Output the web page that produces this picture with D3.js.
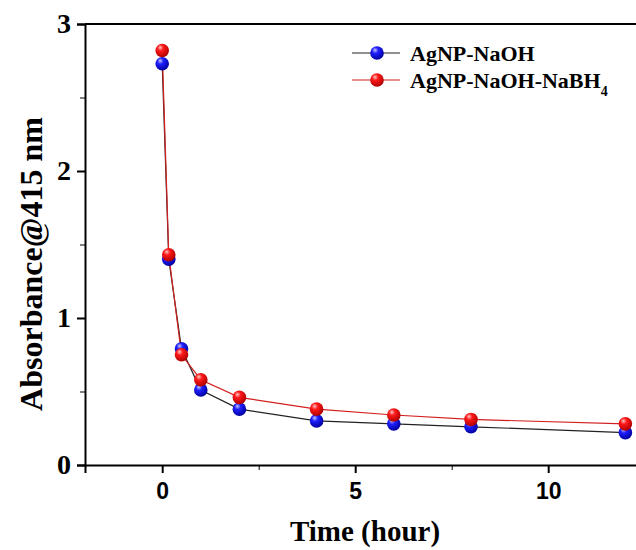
<!DOCTYPE html>
<html><head><meta charset="utf-8">
<script src="https://cdn.jsdelivr.net/npm/d3@7"></script>
<style>body{margin:0;background:#fff}svg{display:block}</style>
</head><body>
<script>
const times = [0, 0.17, 0.5, 1, 2, 4, 6, 8, 12];
const naoh = [2.73, 1.40, 0.79, 0.51, 0.38, 0.30, 0.28, 0.26, 0.22];
const naohNabh4 = [2.82, 1.43, 0.75, 0.58, 0.46, 0.38, 0.34, 0.31, 0.28];
const seriesNames = ["AgNP-NaOH", "AgNP-NaOH-NaBH"];
const xTicks = [0, 5, 10];
const xMinor = [2.5, 7.5, 12.5];
const yTicks = [0, 1, 2, 3];
const yMinor = [0.5, 1.5, 2.5];

const W = 636, H = 550;
const svg = d3.select("body").append("svg").attr("width", W).attr("height", H);
const x = d3.scaleLinear().domain([-2, 14]).range([85, 85 + 16 * 38.6]);
const y = d3.scaleLinear().domain([0, 3]).range([465, 24]);

const defs = svg.append("defs");
function grad(id, c0, c1, c2) {
  const g = defs.append("radialGradient").attr("id", id).attr("cx", "40%").attr("cy", "35%").attr("r", "65%").attr("fx", "35%").attr("fy", "28%");
  g.append("stop").attr("offset", "0%").attr("stop-color", c0);
  g.append("stop").attr("offset", "35%").attr("stop-color", c1);
  g.append("stop").attr("offset", "100%").attr("stop-color", c2);
}
grad("gb", "#c8c8ff", "#2020ff", "#0000a0");
grad("gr", "#ffc8c8", "#ff1a1a", "#b00000");

// axes
const gx = svg.append("g").attr("transform", `translate(0,${y(0)})`)
  .call(d3.axisBottom(x).tickValues(xTicks).tickSize(8).tickPadding(10).tickFormat(d3.format("d")));
svg.append("g").attr("transform", `translate(0,${y(0)})`)
  .call(d3.axisBottom(x).tickValues(xMinor).tickSize(5).tickFormat(""))
  .call(g => g.select(".domain").remove());
gx.select(".domain").attr("stroke-width", 2);
gx.selectAll(".tick line").attr("stroke-width", 2);
gx.selectAll("text").attr("font-family", "Liberation Sans, Arial, sans-serif").attr("font-weight", "bold").attr("font-size", 23).attr("fill", "#000");

const gy = svg.append("g").attr("transform", `translate(${x(-2)},0)`)
  .call(d3.axisLeft(y).tickValues(yTicks).tickSize(8).tickPadding(6).tickFormat(d3.format("d")));
svg.append("g").attr("transform", `translate(${x(-2)},0)`)
  .call(d3.axisLeft(y).tickValues(yMinor).tickSize(5).tickFormat(""))
  .call(g => g.select(".domain").remove());
gy.select(".domain").attr("stroke-width", 2);
gy.selectAll(".tick line").attr("stroke-width", 2);
gy.selectAll("text").attr("font-family", "Liberation Serif, Times New Roman, serif").attr("font-weight", "bold").attr("font-size", 28).attr("fill", "#000");
svg.selectAll(".tick line").attr("stroke", "#000");
svg.selectAll(".domain").attr("stroke", "#000");

// top frame line
svg.append("line").attr("x1", x(-2)).attr("x2", W).attr("y1", y(3)).attr("y2", y(3)).attr("stroke", "#000").attr("stroke-width", 2);

// axis titles
svg.append("text").attr("x", 365).attr("y", 541).attr("text-anchor", "middle")
  .attr("font-family", "Liberation Serif, Times New Roman, serif").attr("font-weight", "bold").attr("font-size", 29).text("Time (hour)");
svg.append("text").attr("transform", `translate(42,264) rotate(-90)`).attr("text-anchor", "middle")
  .attr("font-family", "Liberation Serif, Times New Roman, serif").attr("font-weight", "bold").attr("font-size", 32).text("Absorbance@415 nm");

const line = d3.line().x(d => x(d[0])).y(d => y(d[1]));
const series = [
  { vals: naoh, stroke: "#222", fill: "url(#gb)" },
  { vals: naohNabh4, stroke: "#d42020", fill: "url(#gr)" }
];
series.forEach(s => {
  const pts = times.map((t, i) => [t, s.vals[i]]);
  svg.append("path").attr("d", line(pts)).attr("fill", "none").attr("stroke", s.stroke).attr("stroke-width", 1.2);
});
series.forEach(s => {
  const pts = times.map((t, i) => [t, s.vals[i]]);
  svg.selectAll(null).data(pts).enter().append("circle")
    .attr("cx", d => x(d[0])).attr("cy", d => y(d[1])).attr("r", 6.8).attr("fill", s.fill);
});

// legend
const lg = svg.append("g");
series.forEach((s, i) => {
  const ly = 53 + i * 27;
  lg.append("line").attr("x1", 352).attr("x2", 400).attr("y1", ly).attr("y2", ly).attr("stroke", s.stroke).attr("stroke-width", 1.2);
  lg.append("circle").attr("cx", 377).attr("cy", ly).attr("r", 6.8).attr("fill", s.fill);
  const t = lg.append("text").attr("x", 410).attr("y", ly + 8)
    .attr("font-family", "Liberation Serif, Times New Roman, serif").attr("font-weight", "bold").attr("font-size", 22).text(seriesNames[i]);
  if (i === 1) t.append("tspan").attr("dy", 8).attr("font-size", 14).text("4");
});
</script>
</body></html>
